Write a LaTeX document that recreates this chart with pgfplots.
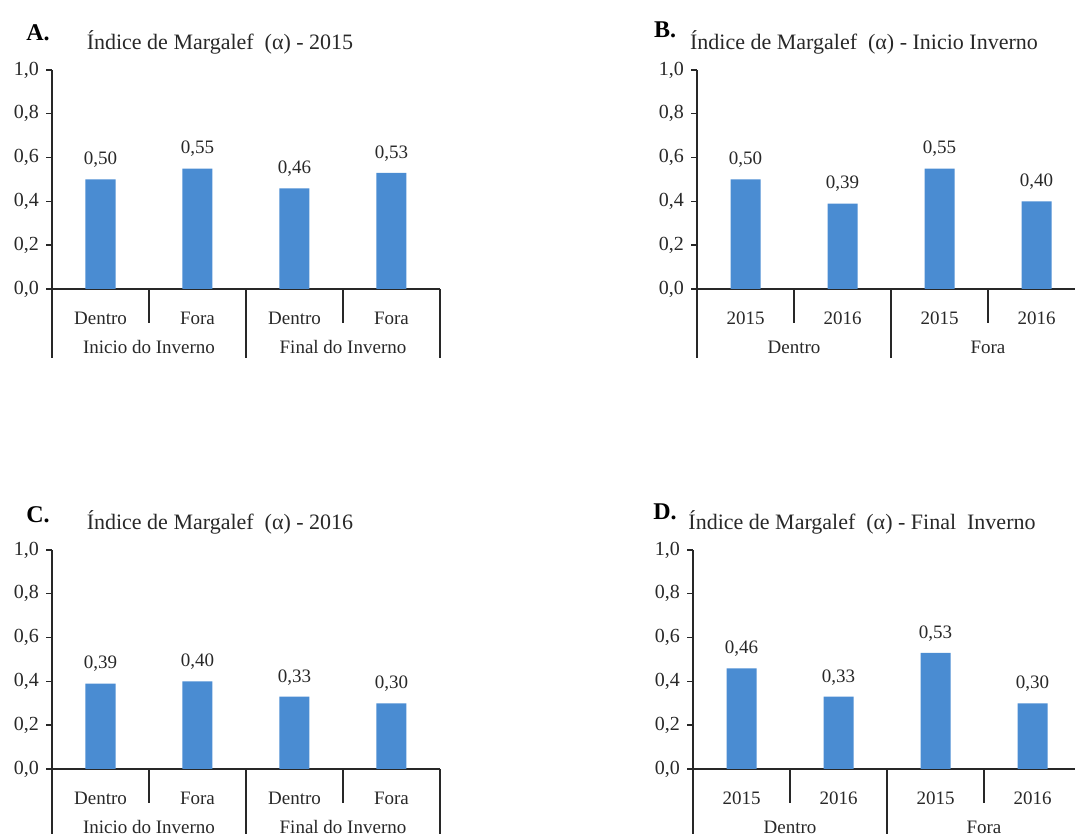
\documentclass[border=0pt]{standalone}
\usepackage{pgfplots}
\pgfplotsset{compat=1.18}
\usepackage{fontspec}
\setmainfont{Liberation Serif}
\definecolor{barblue}{RGB}{74,140,210}
\definecolor{axgray}{RGB}{40,40,40}
\newcommand{\tfont}{\fontsize{11}{13}\selectfont}
\newcommand{\lfont}{\fontsize{9.5}{11}\selectfont}
\pgfplotsset{
 panel/.style={
  scale only axis, width=194pt, height=109.5pt,
  xmin=-0.5, xmax=3.5, ymin=0, ymax=1,
  axis x line*=bottom, axis y line*=left,
  axis line style={-, axgray, line width=0.7pt},
  clip=false,
  ytick={0,0.2,0.4,0.6,0.8,1},
  yticklabel style={/pgf/number format/use comma, /pgf/number format/fixed, /pgf/number format/fixed zerofill, /pgf/number format/precision=1, /pgf/number format/assume math mode=true},
  yticklabel style={font=\fontsize{10}{12}\selectfont, text=axgray},
  tick align=outside, major tick length=3pt,
  ytick style={axgray, line width=0.7pt},
  xtick={0,1,2,3},
  xtick style={draw=none},
  xticklabel style={font=\lfont, text=axgray, anchor=center, yshift=-11.5pt},
  ybar, bar width=15pt,
  point meta=y,
  nodes near coords={\pgfmathprintnumber[assume math mode=true,use comma,fixed,fixed zerofill,precision=2]{\pgfplotspointmeta}},
  every node near coord/.append style={font=\lfont, anchor=center, yshift=9.75pt, text=axgray},
 },
}
\newcommand{\separators}[2]{%
  \draw[axgray, line width=0.7pt] (axis cs:-0.5,0) -- ++(0pt,-34.5pt);
  \draw[axgray, line width=0.7pt] (axis cs:1.5,0) -- ++(0pt,-34.5pt);
  \draw[axgray, line width=0.7pt] (axis cs:3.5,0) -- ++(0pt,-34.5pt);
  \draw[axgray, line width=0.7pt] (axis cs:0.5,0) -- ++(0pt,-17pt);
  \draw[axgray, line width=0.7pt] (axis cs:2.5,0) -- ++(0pt,-17pt);
  \node[font=\lfont, text=axgray, anchor=center] at ([yshift=-29pt]axis cs:0.5,0) {#1};
  \node[font=\lfont, text=axgray, anchor=center] at ([yshift=-29pt]axis cs:2.5,0) {#2};
}
\begin{document}
\begin{tikzpicture}
\path[use as bounding box] (0,0) rectangle (537.5pt,417pt);

% Panel A
\node[font=\fontsize{12}{14}\selectfont\bfseries] at (19pt,400.5pt) {A.};
\node[font=\tfont, text=axgray] at (110pt,396pt) {Índice de Margalef\ \ (α) - 2015};
\begin{axis}[panel, at={(26pt,272.5pt)}, anchor=south west,
  xticklabels={Dentro,Fora,Dentro,Fora}]
\addplot[fill=barblue, draw=none] coordinates {(0,0.50) (1,0.55) (2,0.46) (3,0.53)};
\separators{Inicio do Inverno}{Final do Inverno}
\end{axis}

% Panel B
\node[font=\fontsize{12}{14}\selectfont\bfseries] at (332.5pt,402pt) {B.};
\node[font=\tfont, text=axgray] at (432pt,396pt) {Índice de Margalef\ \ (α) - Inicio Inverno};
\begin{axis}[panel, at={(348.5pt,272.5pt)}, anchor=south west,
  xticklabels={2015,2016,2015,2016}]
\addplot[fill=barblue, draw=none] coordinates {(0,0.50) (1,0.39) (2,0.55) (3,0.40)};
\separators{Dentro}{Fora}
\end{axis}

% Panel C
\node[font=\fontsize{12}{14}\selectfont\bfseries] at (19pt,159.5pt) {C.};
\node[font=\tfont, text=axgray] at (110pt,156pt) {Índice de Margalef\ \ (α) - 2016};
\begin{axis}[panel, at={(26pt,32.5pt)}, anchor=south west,
  xticklabels={Dentro,Fora,Dentro,Fora}]
\addplot[fill=barblue, draw=none] coordinates {(0,0.39) (1,0.40) (2,0.33) (3,0.30)};
\separators{Inicio do Inverno}{Final do Inverno}
\end{axis}

% Panel D
\node[font=\fontsize{12}{14}\selectfont\bfseries] at (332.5pt,161pt) {D.};
\node[font=\tfont, text=axgray] at (431pt,156pt) {Índice de Margalef\ \ (α) - Final\ \ Inverno};
\begin{axis}[panel, at={(346.5pt,32.5pt)}, anchor=south west,
  xticklabels={2015,2016,2015,2016}]
\addplot[fill=barblue, draw=none] coordinates {(0,0.46) (1,0.33) (2,0.53) (3,0.30)};
\separators{Dentro}{Fora}
\end{axis}
\end{tikzpicture}
\end{document}
